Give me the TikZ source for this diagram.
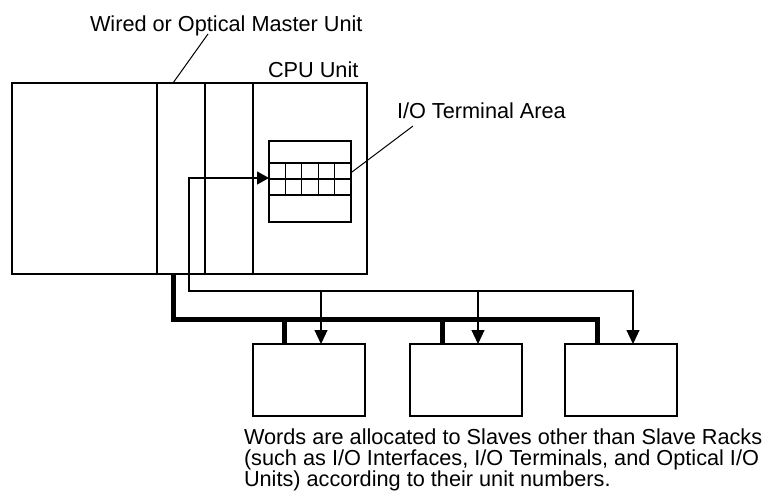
\documentclass[tikz,border=0pt]{standalone}
\usepackage{fontspec}
\setmainfont{Liberation Sans}
\usetikzlibrary{arrows.meta}
\begin{document}
\begin{tikzpicture}[x=1pt,y=-1pt,
  unitbox/.style={draw, line width=2.5pt, inner sep=0pt, outer sep=0pt, rectangle},
  slave/.style={draw, line width=1.3pt, minimum width=112pt, minimum height=72pt, inner sep=0pt, outer sep=0pt},
  lbl/.style={anchor=base west, inner sep=0pt, outer sep=0pt, font=\fontsize{21.7}{21}\selectfont},
  sig/.style={line width=1.2pt, -{Triangle[length=14pt,width=13pt]}},
  sigboth/.style={line width=1.2pt, {Triangle[length=12pt,width=13pt]}-{Triangle[length=14pt,width=13pt]}},
  bus/.style={line width=5pt, line join=miter},
  leader/.style={line width=1pt},
  gridthick/.style={line width=2.5pt},
  gridthin/.style={line width=1.2pt}]
\useasboundingbox (0,0) rectangle (766,492);

% rack units
\node[unitbox, minimum width=145pt, minimum height=191pt] (unitA) at (84.5,178.5) {};
\node[unitbox, minimum width=48pt, minimum height=191pt] (master) at (181,178.5) {};
\node[unitbox, minimum width=48pt, minimum height=191pt] (unitC) at (229,178.5) {};
\node[unitbox, minimum width=114pt, minimum height=191pt] (cpu) at (310,178.5) {};

% I/O terminal area
\node[unitbox, minimum width=82pt, minimum height=81pt] (term) at (310,181.5) {};
\draw[gridthick] (269,163) -- (351,163);
\draw[gridthin] (269,179) -- (351,179);
\draw[gridthick] (269,195) -- (351,195);
\foreach \gx in {285.4,301.8,318.2,334.6}
  \draw[gridthin] (\gx,163) -- (\gx,195);

% slaves
\node[slave] (s1) at (309,380) {};
\node[slave] (s2) at (466,380) {};
\node[slave] (s3) at (621,380) {};

% labels
\node[lbl] (wired) at (90,32) {Wired or Optical Master Unit};
\node[lbl] (cpulbl) at (268,78) {CPU Unit};
\node[lbl] (termlbl) at (397,119) {I/O Terminal Area};
\node[lbl] (note1) at (244,444) {Words are allocated to Slaves other than Slave Racks};
\node[lbl] (note2) at (244,465) {(such as I/O Interfaces, I/O Terminals, and Optical I/O};
\node[lbl] (note3) at (244,486) {Units) according to their unit numbers.};

% leaders
\coordinate (wiredtip) at (208,34);
\coordinate (wiredfoot) at (173,83);
\draw[leader] (wiredfoot) -- (wiredtip);
\coordinate (termtip) at (413,126);
\coordinate (termfoot) at (352,172);
\draw[leader] (termfoot) -- (termtip);

% thick bus
\draw[bus] (173,274) -- (173,319) -- (597,319) -- (597,344);
\draw[bus] (284,319) -- (284,344);
\draw[bus] (442,319) -- (442,344);

% signal lines
\draw[sigboth] (269,178) -- (189,178) -- (189,291) -- (633,291) -- (633,344);
\draw[sig] (321,291) -- (321,344);
\draw[sig] (478,291) -- (478,344);
\end{tikzpicture}
\end{document}
